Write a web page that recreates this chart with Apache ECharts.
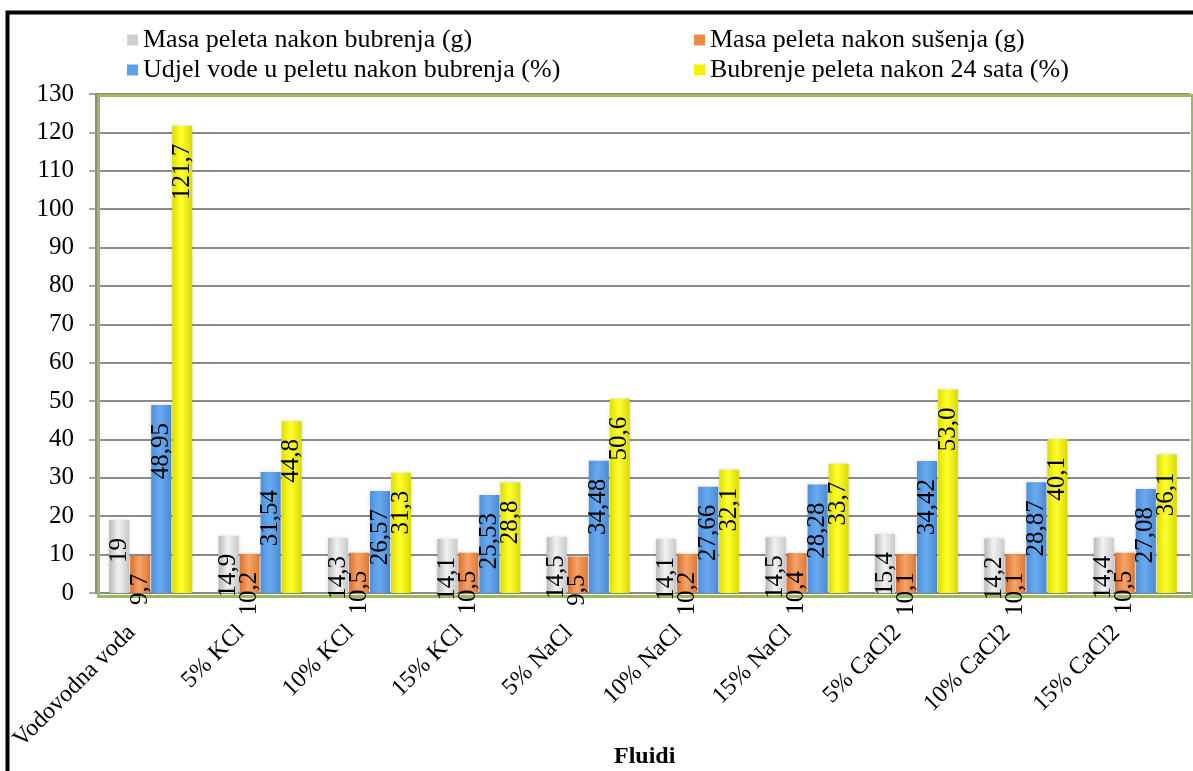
<!DOCTYPE html>
<html>
<head>
<meta charset="utf-8">
<script src="https://cdn.jsdelivr.net/npm/echarts@6/dist/echarts.min.js"></script>
<style>
html,body{margin:0;padding:0;background:#fff;}
#chart{width:1193px;height:771px;}
</style>
</head>
<body>
<div id="chart"></div>
<script>
const categories = ['Vodovodna voda','5% KCl','10% KCl','15% KCl','5% NaCl','10% NaCl','15% NaCl','5% CaCl2','10% CaCl2','15% CaCl2'];
const seriesNames = ['Masa peleta nakon bubrenja (g)','Masa peleta nakon sušenja (g)','Udjel vode u peletu nakon bubrenja (%)','Bubrenje peleta nakon 24 sata (%)'];
const masaBubrenja = [19,14.9,14.3,14.1,14.5,14.1,14.5,15.4,14.2,14.4];
const masaSusenja = [9.7,10.2,10.5,10.5,9.5,10.2,10.4,10.1,10.1,10.5];
const udjelVode = [48.95,31.54,26.57,25.53,34.48,27.66,28.28,34.42,28.87,27.08];
const bubrenje24 = [121.7,44.8,31.3,28.8,50.6,32.1,33.7,53.0,40.1,36.1];
const labelDecimals = [null,null,2,1];
const xAxisTitle = 'Fluidi';

const serif = 'Liberation Serif';
function grad(a,b,c){
  return new echarts.graphic.LinearGradient(0,0,1,0,[{offset:0,color:a},{offset:0.45,color:b},{offset:1,color:c}]);
}
const fills = [
  grad('#b8b8b8','#f2f2f2','#c9c9c9'),
  grad('#dc6e2c','#f5a468','#e07a36'),
  grad('#4f8fd8','#68aaf0','#4d8bd4'),
  grad('#dede00','#ffff30','#d9d900')
];
const legendColors = ['#d0d0d0','#ee8a45','#5aa0ea','#f4f400'];
const dataSets = [masaBubrenja, masaSusenja, udjelVode, bubrenje24];

function fmt(v, dec){
  const s = dec == null ? String(v) : v.toFixed(dec);
  return s.replace('.', ',');
}

const series = dataSets.map((d,i)=>({
  name: seriesNames[i],
  type: 'bar',
  data: d,
  barWidth: 20,
  barGap: '5%',
  itemStyle: { color: fills[i], shadowColor:'rgba(0,0,0,0.15)', shadowBlur:4 },
  label: {
    show: true,
    position: 'insideTop',
    rotate: 90,
    align: 'right',
    verticalAlign: 'middle',
    distance: 18,
    fontFamily: serif,
    fontSize: 25,
    color: '#000',
    formatter: p => fmt(p.value, labelDecimals[i])
  }
}));

const chart = echarts.init(document.getElementById('chart'), null, {renderer:'canvas'});
chart.setOption({
  animation: false,
  backgroundColor: '#fff',
  title: { text: xAxisTitle, left: 614, top: 745, textStyle:{fontFamily:serif, fontSize:24, fontWeight:'bold', color:'#000'}, padding:0 },
  graphic: [
    { type:'rect', left:5, top:10, shape:{x:0,y:0,width:1400,height:1000}, style:{fill:'none', stroke:'#000', lineWidth:4}, z:100 },
    { type:'rect', left:96, top:93, shape:{x:0,y:0,width:1094,height:501}, style:{fill:'none', stroke:'#9bbb59', lineWidth:3}, z:1, silent:true }
  ],
  legend: [
    { orient:'vertical', left:122, top:22, itemWidth:11, itemHeight:11, itemGap:4,
      data:[{name:seriesNames[0], itemStyle:{color:legendColors[0]}},{name:seriesNames[2], itemStyle:{color:legendColors[2]}}],
      textStyle:{fontFamily:serif, fontSize:26, color:'#000', lineHeight:24, padding:[0,0,0,0]}, icon:'rect' },
    { orient:'vertical', left:689, top:22, itemWidth:11, itemHeight:11, itemGap:4,
      data:[{name:seriesNames[1], itemStyle:{color:legendColors[1]}},{name:seriesNames[3], itemStyle:{color:legendColors[3]}}],
      textStyle:{fontFamily:serif, fontSize:26, color:'#000', lineHeight:24, padding:[0,0,0,0]}, icon:'rect' }
  ],
  grid: { left:96, right:3, top:94, bottom:178, containLabel:false, outerBoundsMode:'none' },
  xAxis: {
    type:'category',
    data: categories,
    axisLine:{show:true, lineStyle:{color:'#8a8a8a', width:2}},
    axisTick:{show:false},
    axisLabel:{rotate:45, margin:0, align:'right', verticalAlign:'top', fontFamily:serif, fontSize:24, color:'#000', interval:0, padding:[0,39,0,0]}
  },
  yAxis: {
    type:'value',
    min:0, max:130, interval:10,
    axisLine:{show:true, lineStyle:{color:'#8a8a8a', width:2}},
    axisTick:{show:true, length:7, lineStyle:{color:'#8a8a8a', width:1.5}},
    axisLabel:{fontFamily:serif, fontSize:25, color:'#000', margin:22},
    splitLine:{show:true, lineStyle:{color:'#8c8c8c', width:2}}
  },
  series: series
});
</script>
</body>
</html>
